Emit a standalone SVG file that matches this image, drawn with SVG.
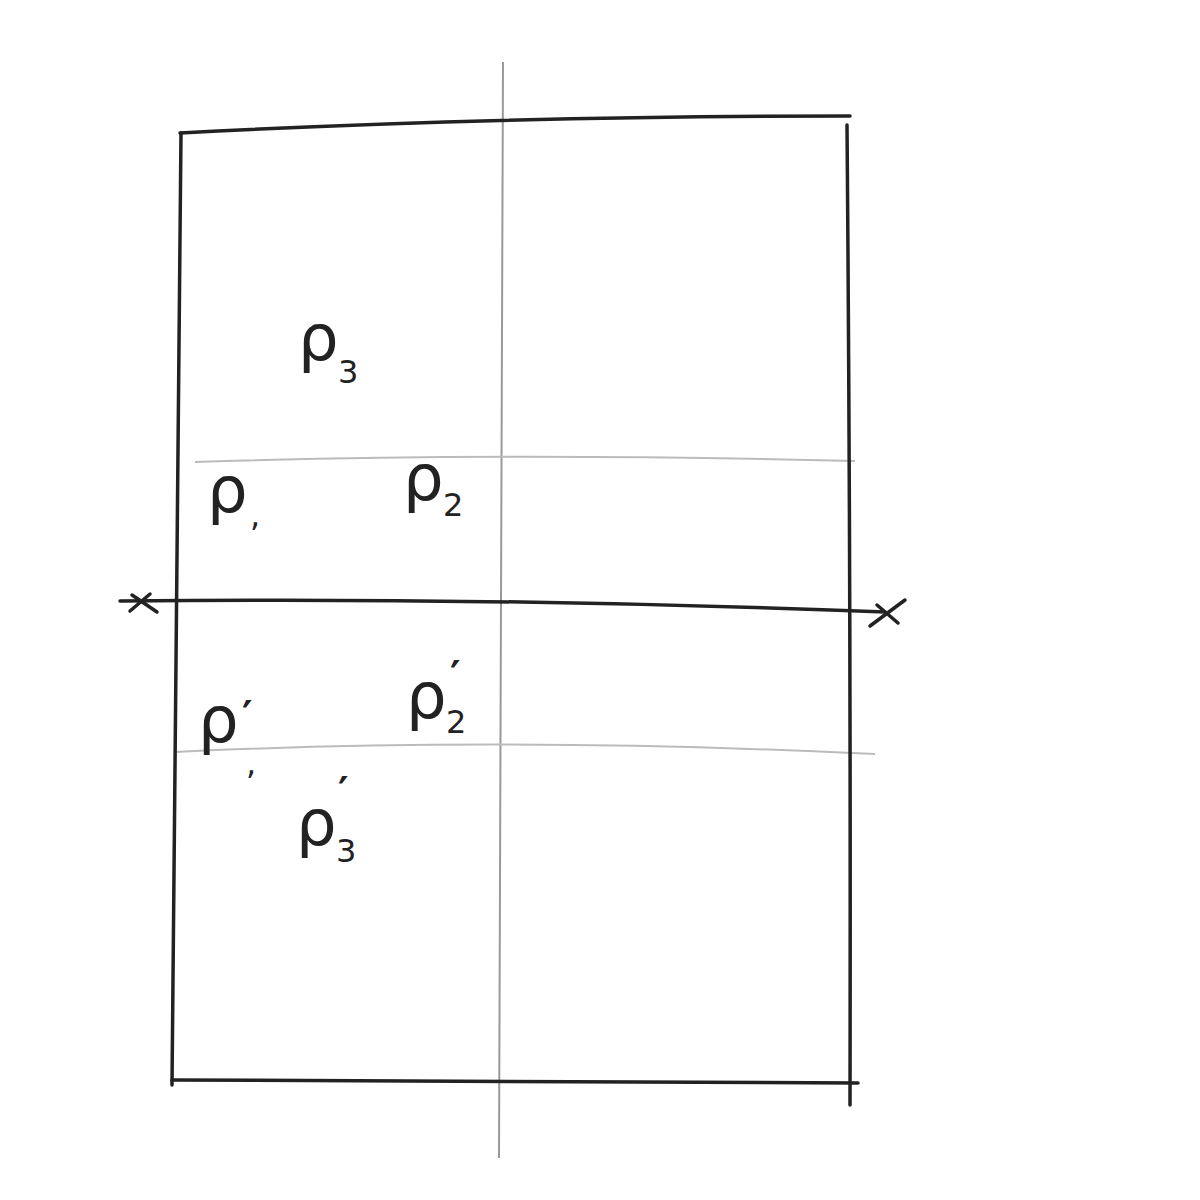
<svg xmlns="http://www.w3.org/2000/svg" width="1200" height="1200" viewBox="0 0 1200 1200">
<style>
.frame{fill:none;stroke:#222;stroke-width:3.5;stroke-linecap:round}
.guide{fill:none;stroke:#bbb;stroke-width:2}
.midv{fill:none;stroke:#999;stroke-width:2}
.lbl{font-family:"DejaVu Sans",sans-serif;font-size:64px;fill:#222}
.sub{font-size:32px}
.pr{font-size:40px;font-weight:bold}
</style>
<rect width="1200" height="1200" fill="#fff"/>
<g id="guides">
<path class="midv" d="M503 62 L501 600 L499 1158"/>
<path class="guide" d="M195 462 Q500 452 855 461"/>
<path class="guide" d="M175 752 Q500 736 875 754"/>
</g>
<g id="frame">
<path class="frame" d="M180 133 Q500 116 850 116"/>
<path class="frame" d="M181 133 Q176 600 172 1085"/>
<path class="frame" d="M172 1080 L858 1083"/>
<path class="frame" d="M847 125 Q851 600 850 1105"/>
</g>
<g id="axis">
<path class="frame" d="M120 601 Q500 597 885 612"/>
<path class="frame" d="M132 595 L157 612 M130 611 L150 594"/>
<path class="frame" d="M877 605 L898 623 M870 626 L905 600"/>
</g>
<g id="labels">
<text class="lbl" x="298" y="360">ρ<tspan class="sub" x="338" y="383">3</tspan></text>
<text class="lbl" x="207" y="512">ρ<tspan class="sub" x="250" y="526">,</tspan></text>
<text class="lbl" x="403" y="500">ρ<tspan class="sub" x="443" y="516">2</tspan></text>
<text class="lbl" x="198" y="742">ρ<tspan class="pr" x="242" y="730">′</tspan><tspan class="sub" x="246" y="774">,</tspan></text>
<text class="lbl" x="406" y="718">ρ<tspan class="pr" x="450" y="690">′</tspan><tspan class="sub" x="446" y="733">2</tspan></text>
<text class="lbl" x="296" y="845">ρ<tspan class="pr" x="338" y="806">′</tspan><tspan class="sub" x="336" y="862">3</tspan></text>
</g>
</svg>
